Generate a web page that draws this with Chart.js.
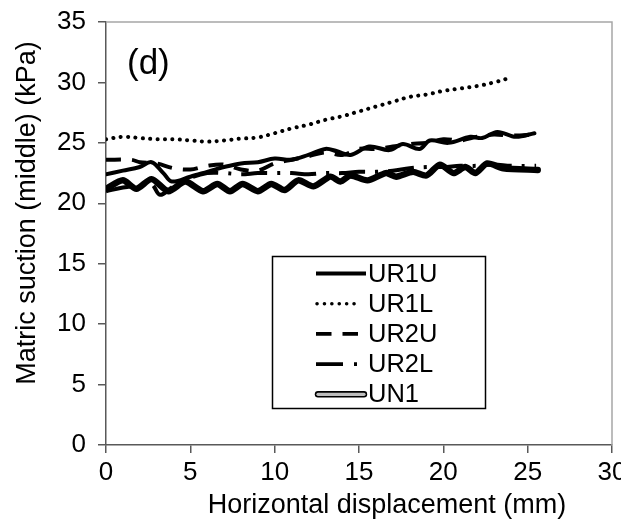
<!DOCTYPE html>
<html>
<head>
<meta charset="utf-8">
<script src="https://cdn.jsdelivr.net/npm/chart.js@4/dist/chart.umd.min.js"></script>
<style>
  html, body { margin: 0; padding: 0; background: #fff; }
  #wrap { width: 621px; height: 521px; position: relative; }
</style>
</head>
<body>
<div id="wrap"><canvas id="chart" width="621" height="521"></canvas></div>
<script>
// Series names and tick labels
const seriesNames = ['UR1U', 'UR1L', 'UR2U', 'UR2L', 'UN1'];
const xTicks = [0, 5, 10, 15, 20, 25, 30];
const yTicks = [0, 5, 10, 15, 20, 25, 30, 35];

// Values (x = displacement mm, y = suction kPa)
const ur1uX = [0, 1, 2, 2.7, 3.4, 3.9, 5, 6, 7, 8, 9, 10, 11, 12, 13, 13.7, 14.5, 15.6, 16.8, 17.6, 18.6, 19.2, 20.3, 21.6, 22.3, 23.2, 24.3, 25.4];
const ur1uY = [22.4, 22.7, 23.0, 23.4, 22.5, 21.8, 22.2, 22.6, 23.0, 23.3, 23.4, 23.7, 23.6, 24.0, 24.5, 24.3, 24.0, 24.7, 24.4, 24.9, 24.5, 25.2, 25.0, 25.5, 25.4, 25.9, 25.5, 25.8];

const ur1lX = [0, 1, 2, 3, 4, 5, 6, 7, 8, 9, 10, 11, 12, 13, 14, 15, 16, 17, 18, 19, 20, 21, 22, 23, 24];
const ur1lY = [25.3, 25.5, 25.4, 25.3, 25.3, 25.2, 25.1, 25.2, 25.35, 25.45, 25.8, 26.2, 26.5, 26.9, 27.2, 27.6, 28.0, 28.4, 28.8, 29.0, 29.3, 29.5, 29.7, 30.0, 30.4];

const ur2uX = [0, 1.5, 2, 3, 4, 5, 6, 7, 8, 9, 10, 11, 12, 13, 14, 15, 16, 17, 18, 19, 20, 21, 22, 23, 24, 25.5];
const ur2uY = [23.6, 23.6, 23.4, 23.3, 22.9, 22.8, 23.1, 23.2, 22.8, 22.7, 23.3, 23.6, 23.9, 24.2, 24.0, 24.5, 24.5, 24.7, 24.9, 25.0, 25.3, 25.2, 25.5, 25.7, 25.6, 25.7];

const ur2lX = [0, 1, 2, 2.7, 3.2, 4, 5, 6, 7, 8, 9, 10, 11, 12, 13, 14, 15, 16, 17, 18, 19, 20, 21, 22, 23, 24, 25.5];
const ur2lY = [21.0, 21.3, 21.5, 21.6, 20.7, 21.4, 22.1, 22.5, 22.5, 22.4, 22.5, 22.5, 22.5, 22.4, 22.5, 22.5, 22.6, 22.6, 22.7, 22.9, 23.0, 23.0, 23.1, 23.1, 23.2, 23.1, 23.1];

const un1X = [0, 1.0, 1.8, 2.7, 3.7, 4.7, 5.75, 6.6, 7.35, 8.1, 9.0, 9.8, 10.6, 11.4, 12.3, 13.3, 13.9, 14.5, 15.5, 16.6, 17.2, 18.2, 19.0, 19.8, 20.6, 21.3, 21.9, 22.6, 23.55, 25.6];
const un1Y = [21.2, 21.9, 21.2, 22.0, 21.0, 21.8, 21.0, 21.6, 21.0, 21.6, 21.0, 21.6, 21.1, 21.9, 21.4, 22.2, 21.8, 22.3, 21.9, 22.5, 22.2, 22.6, 22.3, 23.2, 22.5, 23.0, 22.5, 23.3, 22.9, 22.75];

const FONT = '"Liberation Sans", Arial, sans-serif';

function pts(xs, ys) {
    return xs.map((x, i) => ({ x: x, y: ys[i] }));
}

const base = { pointRadius: 0, tension: 0.35, fill: false, borderColor: '#000', borderJoinStyle: 'round' };

const datasets = [
    Object.assign({}, base, { label: 'UN1', data: pts(un1X, un1Y), borderWidth: 6.4, tension: 0.25, borderCapStyle: 'round' }),
    Object.assign({}, base, { label: '', data: pts(un1X, un1Y), borderWidth: 3.2, tension: 0.25, borderColor: '#cccccc', borderCapStyle: 'round' }),
    Object.assign({}, base, { label: 'UR2L', data: pts(ur2lX, ur2lY), borderWidth: 4, borderDash: [26, 10, 3, 10], borderCapStyle: 'butt' }),
    Object.assign({}, base, { label: 'UR2U', data: pts(ur2uX, ur2uY), borderWidth: 4, borderDash: [15, 11], borderCapStyle: 'butt' }),
    Object.assign({}, base, { label: 'UR1L', data: pts(ur1lX, ur1lY), borderWidth: 4, borderDash: [0.1, 7.3], borderCapStyle: 'round' }),
    Object.assign({}, base, { label: 'UR1U', data: pts(ur1uX, ur1uY), borderWidth: 4, borderCapStyle: 'round' })
];

// Legend samples, drawn in the same order as seriesNames
function drawSample(ctx, name, x0, x1, y) {
    ctx.save();
    ctx.strokeStyle = '#000';
    ctx.lineWidth = 3.8;
    ctx.beginPath();
    if (name === 'UR1U') {
        ctx.moveTo(x0, y); ctx.lineTo(x1, y); ctx.stroke();
    } else if (name === 'UR1L') {
        ctx.lineCap = 'round';
        ctx.lineWidth = 3.5;
        ctx.setLineDash([0.1, 7.3]);
        ctx.moveTo(x0 + 1, y); ctx.lineTo(x1 - 5, y); ctx.stroke();
    } else if (name === 'UR2U') {
        ctx.setLineDash([15.5, 11]);
        ctx.moveTo(x0, y); ctx.lineTo(x1 - 8, y); ctx.stroke();
    } else if (name === 'UR2L') {
        ctx.setLineDash([27, 11, 3, 20]);
        ctx.moveTo(x0, y); ctx.lineTo(x1, y); ctx.stroke();
    } else {
        ctx.lineCap = 'round';
        ctx.lineWidth = 6.4;
        ctx.moveTo(x0 + 2, y); ctx.lineTo(x1 - 2, y); ctx.stroke();
        ctx.beginPath();
        ctx.strokeStyle = '#bdbdbd';
        ctx.lineWidth = 3.2;
        ctx.moveTo(x0 + 2, y); ctx.lineTo(x1 - 2, y); ctx.stroke();
    }
    ctx.restore();
}

const decor = {
    id: 'decor',
    beforeDatasetsDraw(chart) {
        const { ctx, chartArea: a } = chart;
        ctx.save();
        ctx.strokeStyle = '#a6a6a6';
        ctx.lineWidth = 1.5;
        ctx.beginPath();
        ctx.moveTo(a.left, a.top);
        ctx.lineTo(a.right, a.top);
        ctx.lineTo(a.right, a.bottom);
        ctx.stroke();
        ctx.restore();
    },
    afterDraw(chart) {
        const { ctx } = chart;
        ctx.save();
        ctx.fillStyle = '#000';

        // panel tag
        ctx.font = '35px ' + FONT;
        ctx.textAlign = 'left';
        ctx.textBaseline = 'middle';
        ctx.fillText('(d)', 127, 64);

        // axis titles
        ctx.font = '27px ' + FONT;
        ctx.textAlign = 'center';
        ctx.fillText('Horizontal displacement (mm)', 387, 506);
        ctx.save();
        ctx.translate(28, 213);
        ctx.rotate(-Math.PI / 2);
        ctx.font = '27px ' + FONT;
        ctx.fillText('Matric suction (middle) (kPa)', 0, 0);
        ctx.restore();

        // legend box
        const bx = 272.5, by = 256.5, bw = 213, bh = 152;
        ctx.fillStyle = '#fff';
        ctx.fillRect(bx, by, bw, bh);
        ctx.strokeStyle = '#000';
        ctx.lineWidth = 1.5;
        ctx.strokeRect(bx, by, bw, bh);

        ctx.font = '25.5px ' + FONT;
        ctx.textAlign = 'left';
        ctx.fillStyle = '#000';
        seriesNames.forEach((name, i) => {
            const y = 273.5 + i * 30.2;
            drawSample(ctx, name, 316, 366, y);
            ctx.fillText(name, 368, y + 1);
        });
        ctx.restore();
    }
};

new Chart(document.getElementById('chart').getContext('2d'), {
    type: 'line',
    data: { datasets: datasets },
    plugins: [decor],
    options: {
        responsive: false,
        animation: false,
        layout: { padding: { top: 22, right: 9, left: 0, bottom: 0 } },
        plugins: { legend: { display: false }, tooltip: { enabled: false } },
        scales: {
            x: {
                type: 'linear',
                min: 0, max: 30,
                afterBuildTicks: (s) => { s.ticks = xTicks.map(v => ({ value: v })); },
                afterFit: (s) => { s.height = 76; s.paddingLeft = 0; s.paddingRight = 0; },
                grid: { drawOnChartArea: false, drawTicks: true, tickLength: 8, color: '#595959', lineWidth: 1.5 },
                border: { color: '#595959', width: 1.5 },
                ticks: { color: '#000', font: { family: FONT, size: 26 }, padding: 4, maxRotation: 0, autoSkip: false }
            },
            y: {
                type: 'linear',
                min: 0, max: 35,
                afterBuildTicks: (s) => { s.ticks = yTicks.map(v => ({ value: v })); },
                afterFit: (s) => { s.width = 106; s.paddingTop = 0; s.paddingBottom = 0; },
                grid: { drawOnChartArea: false, drawTicks: true, tickLength: 8, color: '#595959', lineWidth: 1.5 },
                border: { color: '#595959', width: 1.5 },
                ticks: { color: '#000', font: { family: FONT, size: 26 }, padding: 12, autoSkip: false }
            }
        }
    }
});
</script>
</body>
</html>
